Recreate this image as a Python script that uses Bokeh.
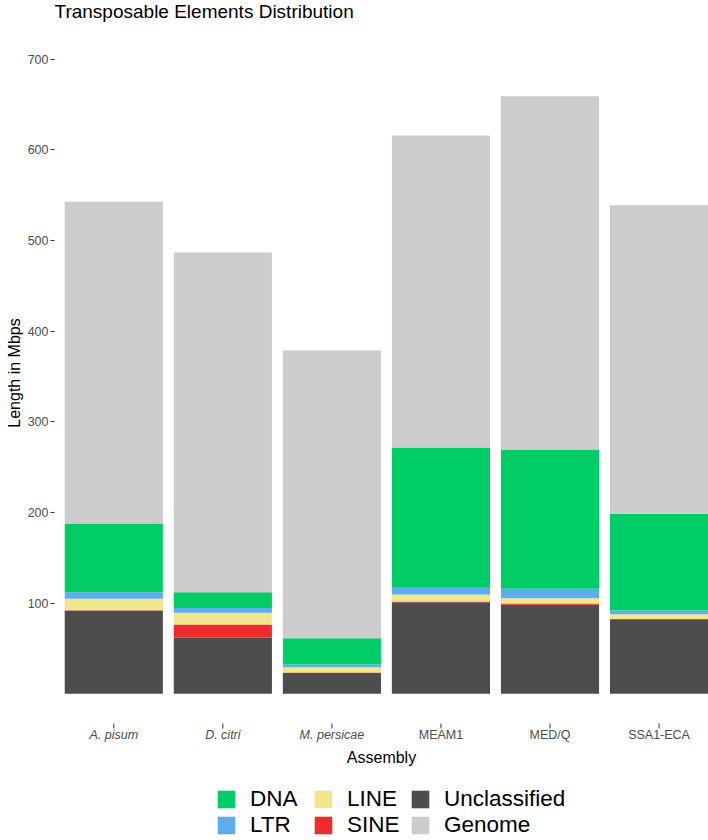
from bokeh.plotting import figure
from bokeh.layouts import column
from bokeh.models import (Range1d, FixedTicker, ColumnDataSource, Legend,
                          LegendItem, LabelSet, Label)
from bokeh.core.properties import field, value
from bokeh.embed import file_html
from bokeh.resources import INLINE

# ---------------- data (Mbps) ----------------
assemblies = ["A. pisum", "D. citri", "M. persicae", "MEAM1", "MED/Q", "SSA1-ECA"]
italic_names = [True, True, True, False, False, False]

unclassified = [91.9, 61.8, 23.2, 101.0, 98.2, 82.3]
sine = [0.3, 14.6, 0.2, 0.8, 1.4, 0.2]
line = [12.6, 12.9, 5.9, 7.7, 5.8, 5.3]
ltr = [7.3, 5.2, 3.0, 7.4, 10.4, 4.1]
dna = [75.7, 17.6, 29.0, 154.7, 153.6, 106.6]
genome_total = [542.6, 486.7, 378.6, 615.7, 659.1, 538.9]

y_ticks = [100, 200, 300, 400, 500, 600, 700]

stack_order = ["Unclassified", "SINE", "LINE", "LTR", "DNA", "Genome"]
legend_order = ["DNA", "LTR", "LINE", "SINE", "Unclassified", "Genome"]
colors = {
    "DNA": "#00CD66",
    "LTR": "#5CACEE",
    "LINE": "#F0E68C",
    "SINE": "#EE2C2C",
    "Unclassified": "#4D4D4D",
    "Genome": "#CCCCCC",
}

FONT = "Liberation Sans"

# ---------------- layout constants ----------------
W = 708
MAIN_H = 770
BORDER_L = 54
BORDER_B = 25
FRAME_W = W - BORDER_L
FRAME_H = MAIN_H - BORDER_B
PX_X = 109.05          # pixels per category step
PX_Y = 0.9067          # pixels per Mbps
ZERO_Y = 693.3         # pixel row of the baseline
FIRST_X = 113.3        # pixel column of the first category

X_START = 1 - (FIRST_X - BORDER_L) / PX_X
X_END = X_START + FRAME_W / PX_X
Y_END = ZERO_Y / PX_Y
Y_START = Y_END - FRAME_H / PX_Y


def y_at(px):
    return (ZERO_Y - px) / PX_Y


# ---------------- derived ----------------
xpos = list(range(1, len(assemblies) + 1))
genome_rest = [round(t - (u + s + l + r + d), 2)
               for t, u, s, l, r, d in zip(genome_total, unclassified, sine, line, ltr, dna)]
n = len(assemblies)

source = ColumnDataSource(dict(
    x=xpos,
    Unclassified=unclassified, SINE=sine, LINE=line, LTR=ltr, DNA=dna,
    Genome=genome_rest,
    name=assemblies,
    style=["italic" if it else "normal" for it in italic_names],
    label_y=[y_at(738.5)] * n,
    tick_y0=[y_at(723)] * n,
    tick_y1=[y_at(728)] * n,
))

p = figure(width=W, height=MAIN_H,
           x_range=Range1d(X_START, X_END), y_range=Range1d(Y_START, Y_END),
           output_backend="svg", toolbar_location=None,
           min_border_left=BORDER_L, min_border_right=0, min_border_top=0,
           min_border_bottom=BORDER_B)

renderers = p.vbar_stack(stack_order, x="x", width=0.9, source=source,
                         color=[colors[k] for k in stack_order], line_color=None)

# x tick marks (category positions)
p.segment(x0="x", y0="tick_y0", x1="x", y1="tick_y1", source=source,
          line_color="#333333", line_width=1)

# ---------------- axes ----------------
p.grid.visible = False
p.outline_line_color = None
p.background_fill_color = "white"
p.border_fill_color = "white"

ya = p.yaxis[0]
ya.ticker = FixedTicker(ticks=y_ticks)
ya.axis_label = "Length in Mbps"
ya.axis_label_text_font = FONT
ya.axis_label_text_font_style = "normal"
ya.axis_label_text_font_size = "16px"
ya.axis_label_text_color = "black"
ya.axis_label_standoff = 2
ya.major_label_text_font = FONT
ya.major_label_text_font_size = "12.5px"
ya.major_label_text_color = "#4D4D4D"
ya.major_label_standoff = 2
ya.major_tick_out = 4
ya.major_tick_in = 0
ya.major_tick_line_color = "#333333"
ya.minor_tick_line_color = None
ya.axis_line_color = None

xa = p.xaxis[0]
xa.ticker = FixedTicker(ticks=[])
xa.major_label_text_font_size = "0px"
xa.axis_label = "Assembly"
xa.axis_label_text_font = FONT
xa.axis_label_text_font_style = "normal"
xa.axis_label_text_font_size = "16px"
xa.axis_label_text_color = "black"
xa.axis_label_standoff = 3
xa.major_tick_out = 0
xa.major_tick_in = 0
xa.minor_tick_line_color = None
xa.axis_line_color = None

# category labels (mixed italic / upright)
labels = LabelSet(x="x", y="label_y", text="name", source=source,
                  text_font=value(FONT), text_font_size=value("12.5px"),
                  text_font_style=field("style"), text_color=value("#4D4D4D"),
                  text_align=value("center"), text_baseline=value("alphabetic"))
p.add_layout(labels)

# title
title = Label(x=X_START, y=Y_END, text="Transposable Elements Distribution",
              text_font=FONT, text_font_size="19px", text_color="black",
              text_align="left", text_baseline="top")
p.add_layout(title)

# ---------------- legend (own strip under the plot) ----------------
LEG_H = 840 - MAIN_H
pl = figure(width=W, height=LEG_H, x_axis_type=None, y_axis_type=None,
            output_backend="svg", toolbar_location=None,
            min_border=0, outline_line_color=None)
pl.background_fill_color = "white"
pl.border_fill_color = "white"
proxies = {k: pl.vbar(x=[0], top=[0], bottom=[0], width=0.9,
                      fill_color=colors[k], line_color=None)
           for k in legend_order}
legend = Legend(items=[LegendItem(label=k, renderers=[proxies[k]]) for k in legend_order],
                orientation="vertical", nrows=2, location=(215 - BORDER_L, 2),
                glyph_width=22, glyph_height=22, label_standoff=13,
                label_text_font=FONT, label_text_font_size="22.5px",
                label_text_color="black", label_width=62, label_height=22,
                spacing=0, padding=0, margin=0,
                border_line_color=None, background_fill_alpha=0)
pl.add_layout(legend)

open("out.html", "w").write(file_html(column(p, pl, spacing=0), INLINE))
